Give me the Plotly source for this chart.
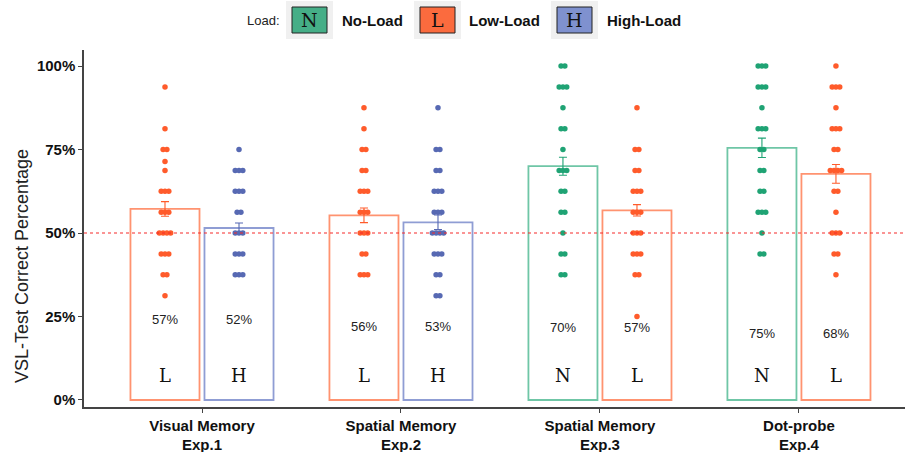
import plotly.graph_objects as go

# ---------------- data ----------------
categories = ["Visual Memory<br>Exp.1", "Spatial Memory<br>Exp.2",
              "Spatial Memory<br>Exp.3", "Dot-probe<br>Exp.4"]
y_tick_vals = [0, 25, 50, 75, 100]
y_tick_text = ["0%", "25%", "50%", "75%", "100%"]
y_title = "VSL-Test Correct Percentage"
left_load = ["L", "L", "N", "N"]
right_load = ["H", "H", "L", "L"]
left_mean = [57.2, 55.3, 70.0, 75.5]
right_mean = [51.5, 53.2, 56.8, 67.7]
left_se = [2.2, 2.2, 2.7, 2.9]
right_se = [1.5, 2.2, 1.7, 2.8]
left_label = ["57%", "56%", "70%", "75%"]
right_label = ["52%", "53%", "57%", "68%"]

exp1_L = [93.75, 81.25, 75, 75, 71.4, 68.75, 62.5, 62.5, 62.5, 56.25, 56.25, 56.25,
          50, 50, 50, 50, 43.75, 43.75, 43.75, 37.5, 37.5, 31.25]
exp1_H = [75, 68.75, 68.75, 68.75, 62.5, 62.5, 62.5, 56.25, 56.25, 50, 50, 50,
          43.75, 43.75, 43.75, 37.5, 37.5, 37.5]
exp2_L = [87.5, 81.25, 75, 75, 68.75, 68.75, 62.5, 62.5, 62.5, 56.25, 56.25, 56.25,
          50, 50, 50, 43.75, 43.75, 37.5, 37.5, 37.5]
exp2_H = [87.5, 75, 75, 68.75, 68.75, 62.5, 62.5, 62.5, 56.25, 56.25, 56.25,
          50, 50, 50, 50, 43.75, 43.75, 43.75, 37.5, 37.5, 31.25, 31.25]
exp3_N = [100, 100, 93.75, 93.75, 93.75, 87.5, 81.25, 81.25, 75, 68.75, 68.75, 68.75,
          62.5, 62.5, 56.25, 56.25, 50, 43.75, 43.75, 37.5, 37.5]
exp3_L = [87.5, 75, 75, 68.75, 68.75, 62.5, 62.5, 62.5, 56.25, 56.25, 56.25,
          50, 50, 50, 43.75, 43.75, 43.75, 37.5, 37.5, 25]
exp4_N = [100, 100, 100, 93.75, 93.75, 93.75, 87.5, 81.25, 81.25, 81.25, 75, 75,
          68.75, 68.75, 62.5, 62.5, 56.25, 56.25, 56.25, 50, 43.75, 43.75]
exp4_L = [100, 93.75, 93.75, 93.75, 87.5, 81.25, 81.25, 81.25, 75, 75,
          68.75, 68.75, 68.75, 68.75, 62.5, 62.5, 56.25, 50, 50, 50, 43.75, 43.75, 37.5]
left_points = [exp1_L, exp2_L, exp3_N, exp4_N]
right_points = [exp1_H, exp2_H, exp3_L, exp4_L]

legend_keys = ["N", "L", "H"]
legend_names = ["No-Load", "Low-Load", "High-Load"]

# ---------------- style ----------------
DOT = {"N": "#1FA374", "L": "#FF5B2B", "H": "#5769B3"}
OUTLINE = {"N": "#6FC6A6", "L": "#FF9370", "H": "#8F9DD4"}
KEYFILL = {"N": "#45AE87", "L": "#FB6B3E", "H": "#7F91CF"}
OFF = 0.186
BW = 0.347
LABEL_Y = [24, 22, 21.7, 19.8]
LETTER_Y = 7.2
SANS = "Liberation Sans, Arial, sans-serif"
SERIF = "DejaVu Serif, serif"

L_MARGIN, R_MARGIN, T_MARGIN, B_MARGIN = 84, 0, 50, 45
W, H = 905, 452


def px_x(X):
    return (X - L_MARGIN) / (W - L_MARGIN - R_MARGIN)


def px_y(Y):
    return (H - B_MARGIN - Y) / (H - B_MARGIN - T_MARGIN)


fig = go.Figure()

xs = [1, 2, 3, 4]
for side, loads, means, ses, pts, sign in [
    ("left", left_load, left_mean, left_se, left_points, -1),
    ("right", right_load, right_mean, right_se, right_points, 1),
]:
    bx = [x + sign * OFF for x in xs]
    fig.add_trace(go.Bar(
        x=bx, y=means, width=BW,
        marker=dict(color="rgba(255,255,255,0)",
                    line=dict(color=[OUTLINE[l] for l in loads], width=1.8)),
        showlegend=False, hoverinfo="skip",
    ))
    # jittered points
    for i, vals in enumerate(pts):
        counts = {}
        for v in vals:
            counts[v] = counts.get(v, 0) + 1
        seen = {}
        px, py = [], []
        for v in vals:
            k = seen.get(v, 0)
            seen[v] = k + 1
            n = counts[v]
            px.append(bx[i] + (k - (n - 1) / 2) * 0.019)
            py.append(v)
        fig.add_trace(go.Scatter(
            x=px, y=py, mode="markers",
            marker=dict(size=5.5, color=DOT[loads[i]], line=dict(width=0)),
            showlegend=False, hoverinfo="skip",
        ))
    # error bars
    for i in range(4):
        fig.add_trace(go.Scatter(
            x=[bx[i]], y=[means[i]], mode="markers",
            marker=dict(size=1, color="rgba(0,0,0,0)"),
            error_y=dict(type="data", array=[ses[i]], color=DOT[loads[i]],
                         thickness=1.1, width=4),
            showlegend=False, hoverinfo="skip",
        ))

# value labels and letters
for side, loads, labels, sign in [("left", left_load, left_label, -1),
                                  ("right", right_load, right_label, 1)]:
    for i in range(4):
        x = xs[i] + sign * OFF
        fig.add_annotation(x=x, y=LABEL_Y[i], text=labels[i], showarrow=False,
                           xanchor="center", yanchor="middle",
                           font=dict(family=SANS, size=13, color="#222"))
        fig.add_annotation(x=x, y=LETTER_Y, text=loads[i], showarrow=False,
                           xanchor="center", yanchor="middle",
                           font=dict(family=SERIF, size=18, color="#111"))

# reference line at 50%
fig.add_shape(type="line", xref="paper", x0=0, x1=1, yref="y", y0=50, y1=50,
              line=dict(color="#F52A2A", width=1.2, dash="dot"), layer="above")

# y-axis title
fig.add_annotation(xref="paper", yref="paper", x=px_x(22), y=px_y(266),
                   xanchor="center", yanchor="middle", textangle=-90,
                   text=y_title, showarrow=False,
                   font=dict(family=SANS, size=18, color="#222"))

# legend built from shapes and text
fig.add_annotation(xref="paper", yref="paper", x=px_x(245), y=px_y(20),
                   xanchor="left", yanchor="middle",
                   text="Load:", showarrow=False,
                   font=dict(family=SANS, size=13, color="#222"))
key_left = [292, 420, 557]
label_left = [340, 467, 605]
for k, name, kl, ll in zip(legend_keys, legend_names, key_left, label_left):
    fig.add_shape(type="rect", xref="paper", yref="paper",
                  x0=px_x(kl - 6), x1=px_x(kl + 41), y0=px_y(39), y1=px_y(1),
                  fillcolor="#F0F0F0", line=dict(width=0), layer="below")
    fig.add_shape(type="rect", xref="paper", yref="paper",
                  x0=px_x(kl), x1=px_x(kl + 35), y0=px_y(33), y1=px_y(7),
                  fillcolor=KEYFILL[k], line=dict(color="#222", width=1))
    fig.add_annotation(xref="paper", yref="paper", x=px_x(kl + 17.5), y=px_y(20),
                       xanchor="center", yanchor="middle",
                       text=k, showarrow=False,
                       font=dict(family=SERIF, size=19, color="#111"))
    fig.add_annotation(xref="paper", yref="paper", x=px_x(ll), y=px_y(20),
                       xanchor="left", yanchor="middle", text=name, showarrow=False,
                       font=dict(family=SANS, size=15, color="#111", weight="bold"))

fig.update_layout(
    width=W, height=H,
    margin=dict(l=L_MARGIN, r=R_MARGIN, t=T_MARGIN, b=B_MARGIN, autoexpand=False),
    paper_bgcolor="white", plot_bgcolor="white",
    barmode="overlay", showlegend=False,
    xaxis=dict(range=[0.407, 4.533], tickvals=xs, ticktext=categories,
               showline=True, linecolor="#444", linewidth=1.5,
               ticks="outside", ticklen=4, tickcolor="#444",
               showgrid=False, zeroline=False, automargin=False,
               tickfont=dict(family=SANS, size=15, color="#111", weight="bold")),
    yaxis=dict(range=[-2.1, 104.8], tickvals=y_tick_vals, ticktext=y_tick_text,
               showline=True, linecolor="#444", linewidth=1.5,
               ticks="outside", ticklen=4, tickcolor="#444",
               showgrid=False, zeroline=False, automargin=False,
               tickfont=dict(family=SANS, size=15, color="#111", weight="bold")),
)

fig.write_html("out.html", config={"displayModeBar": False},
               post_script="document.body.style.margin='0';"
                           "document.body.style.padding='0';")
